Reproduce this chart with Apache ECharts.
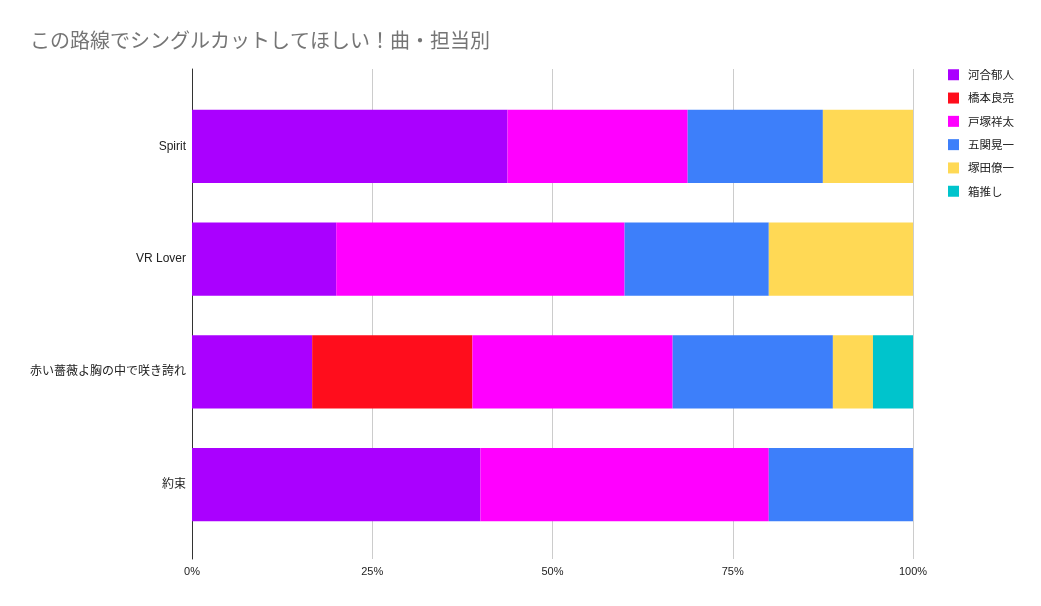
<!DOCTYPE html>
<html>
<head>
<meta charset="UTF-8">
<title>この路線でシングルカットしてほしい！曲・担当別</title>
<script src="https://cdn.jsdelivr.net/npm/echarts@6/dist/echarts.min.js"></script>
<style>
  html, body { margin: 0; padding: 0; background: #fff; }
  #container { width: 1041px; height: 606px; }
</style>
</head>
<body>
<div id="container"></div>
<script>
// 曲（上から順）
var songs = ['Spirit', 'VR Lover', '赤い薔薇よ胸の中で咲き誇れ', '約束'];
// 担当（凡例の順）
var members = ['河合郁人', '橋本良亮', '戸塚祥太', '五関晃一', '塚田僚一', '箱推し'];
var colors = ['#aa00ff', '#ff0d1c', '#ff00ff', '#3d7ffa', '#ffd955', '#00c4cc'];
// 票数（曲ごと、担当の順）
var kawai     = [7, 1, 3, 2];
var hashimoto = [0, 0, 4, 0];
var totsuka   = [4, 2, 5, 2];
var goseki    = [3, 1, 4, 1];
var tsukada   = [2, 1, 1, 0];
var hakooshi  = [0, 0, 1, 0];
var votes = [kawai, hashimoto, totsuka, goseki, tsukada, hakooshi];
var xTicks = ['0%', '25%', '50%', '75%', '100%'];

var latin = 'Liberation Sans, Arial, Noto Sans CJK JP, sans-serif';

var totals = songs.map(function (s, i) {
  return votes.reduce(function (sum, arr) { return sum + arr[i]; }, 0);
});

var series = members.map(function (name, k) {
  return {
    name: name,
    type: 'bar',
    stack: 'all',
    xAxisIndex: 1,
    yAxisIndex: 1,
    barWidth: '65%',
    itemStyle: { color: colors[k] },
    data: votes[k].map(function (v, i) { return v / totals[i] * 100; })
  };
});

var myChart = echarts.init(document.getElementById('container'));
var option = {
  animation: false,
  title: {
    text: 'この路線でシングルカットしてほしい！曲・担当別',
    left: 25,
    top: 25,
    textStyle: {
      fontFamily: 'Noto Sans CJK JP',
      fontSize: 20,
      fontWeight: 'normal',
      color: '#757575'
    }
  },
  legend: {
    orient: 'vertical',
    left: 943,
    top: 64,
    itemWidth: 11,
    itemHeight: 11,
    itemGap: 11.8,
    icon: 'rect',
    data: members,
    textStyle: {
      fontFamily: 'Noto Sans CJK JP',
      fontSize: 11.5,
      color: '#222',
      padding: [0, 0, 0, 4]
    }
  },
  // grid 0: frame (axis line, grid lines, % labels); grid 1: bars and song labels
  grid: [
    { left: 192, right: 128, top: 69, bottom: 47 },
    { left: 192, right: 128, top: 90, bottom: 65 }
  ],
  xAxis: [{
    gridIndex: 0,
    type: 'value',
    min: 0,
    max: 100,
    interval: 25,
    axisLine: { show: false },
    axisTick: { show: false },
    splitLine: { lineStyle: { color: '#cccccc' } },
    axisLabel: {
      margin: 7,
      fontFamily: latin,
      fontSize: 11,
      color: '#222',
      formatter: function (v) { return xTicks[v / 25]; }
    }
  }, {
    gridIndex: 1,
    type: 'value',
    min: 0,
    max: 100,
    show: false
  }],
  yAxis: [{
    gridIndex: 0,
    type: 'category',
    data: [''],
    axisLine: { show: true, lineStyle: { color: '#333' } },
    axisTick: { show: false },
    axisLabel: { show: false }
  }, {
    gridIndex: 1,
    type: 'category',
    inverse: true,
    data: songs,
    axisLine: { show: false },
    axisTick: { show: false },
    axisLabel: {
      margin: 6,
      fontFamily: latin,
      fontSize: 12,
      color: '#222'
    }
  }],
  series: series
};
myChart.setOption(option, true);
</script>
</body>
</html>
